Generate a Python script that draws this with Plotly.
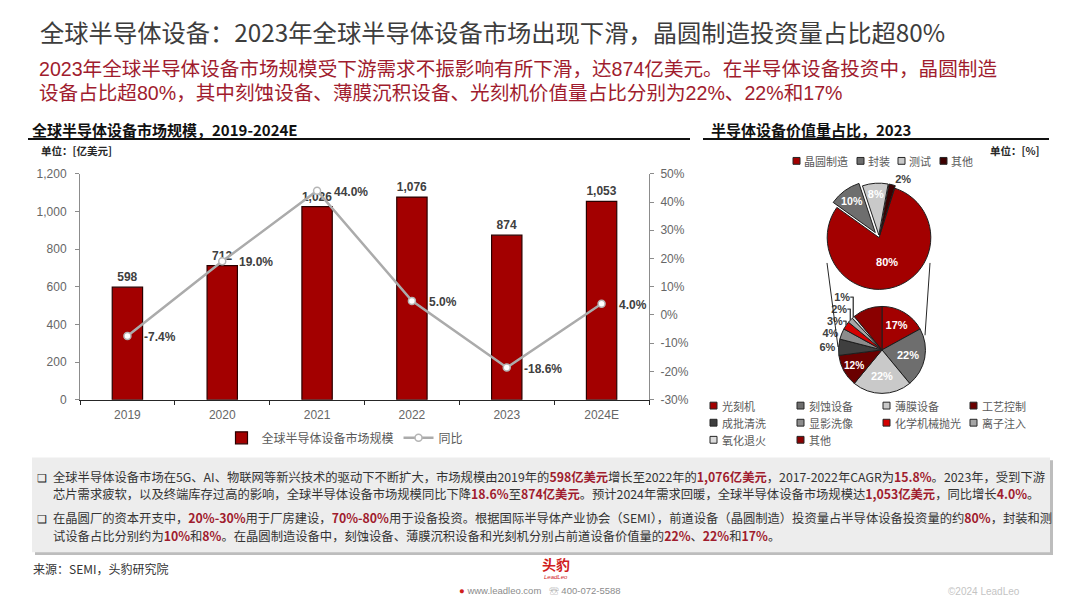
import plotly.graph_objects as go

W, H = 1080, 608

# ---- data ----
years = ["2019", "2020", "2021", "2022", "2023", "2024E"]
market_size = [598, 712, 1026, 1076, 874, 1053]   # 亿美元
yoy_growth = [-7.4, 19.0, 44.0, 5.0, -18.6, 4.0]   # %

seg_labels = ["晶圆制造", "封装", "测试", "其他"]
seg_values = [80, 10, 8, 2]
seg_colors = ["#a30000", "#6e6e6e", "#c9c9c9", "#3d0000"]
seg_pull = [0, 0.12, 0.05, 0.05]
seg_textpos = ["inside", "inside", "inside", "outside"]

fab_labels = ["光刻机", "刻蚀设备", "薄膜设备", "工艺控制", "成批清洗",
              "显影洗像", "化学机械抛光", "离子注入", "氧化退火", "其他"]
fab_values = [17, 22, 22, 12, 6, 4, 3, 2, 1, 11]
fab_colors = ["#a30000", "#6e6e6e", "#c9c9c9", "#6a0000", "#3f3f3f",
              "#8c8c8c", "#d40000", "#a6a6a6", "#dcdcdc", "#8a0000"]
fab_textpos = ["inside"] * 4 + ["outside"] * 5 + ["none"]

yticks = [-30, -20, -10, 0, 10, 20, 30, 40, 50]

RED = "#a01c2e"
CJK = "Noto Sans CJK SC"
LAT = "Liberation Sans, Noto Sans CJK SC"


def fx(x):
    return x / W


def fy(y):
    return 1 - y / H


fig = go.Figure()

fig.add_trace(go.Bar(
    x=years, y=market_size, name="全球半导体设备市场规模",
    marker=dict(color="#a30000", line=dict(color="#2a0000", width=1.2)),
    width=0.32, texttemplate="%{y:,}", textposition="outside",
    textfont=dict(family=LAT, size=12, color="#404040", weight="bold"),
    cliponaxis=False,
))
fig.add_trace(go.Scatter(
    x=years, y=yoy_growth, name="同比", yaxis="y2", mode="lines+markers",
    line=dict(color="#ababab", width=2.5),
    marker=dict(symbol="circle", size=7, color="white", line=dict(color="#b5b5b5", width=1.5)),
    cliponaxis=False,
))

# top pie: equipment by stage
fig.add_trace(go.Pie(
    labels=seg_labels, values=seg_values, sort=False, direction="clockwise",
    rotation=17.6, pull=seg_pull, showlegend=False,
    marker=dict(colors=seg_colors, line=dict(color="#1e1e1e", width=1)),
    text=[f"{v}%" for v in seg_values], textinfo="text", textposition=seg_textpos,
    insidetextorientation="horizontal",
    insidetextfont=dict(family=LAT, size=11, color="white", weight="bold"),
    outsidetextfont=dict(family=LAT, size=11, color="#404040", weight="bold"),
    domain=dict(x=[fx(819.6), fx(938.4)], y=[fy(295.4), fy(176.6)]),
    hoverinfo="label+percent",
))

# bottom pie: wafer fab equipment split
fig.add_trace(go.Pie(
    labels=fab_labels, values=fab_values, sort=False, direction="clockwise",
    rotation=0, showlegend=False,
    marker=dict(colors=fab_colors, line=dict(color="#1e1e1e", width=1)),
    text=[f"{v}%" for v in fab_values], textinfo="text", textposition=fab_textpos,
    insidetextorientation="horizontal",
    insidetextfont=dict(family=LAT, size=11, color="white", weight="bold"),
    outsidetextfont=dict(family=LAT, size=11, color="#404040", weight="bold"),
    domain=dict(x=[fx(837.5), fx(926.5)], y=[fy(395.5), fy(306.5)]),
    hoverinfo="label+percent",
))

ann = []

# growth-rate labels, placed on the data axes just right of each point
for i, g in enumerate(yoy_growth):
    ann.append(dict(x=i, y=g, xref="x", yref="y2", text=f"{g:.1f}%", showarrow=False,
                    xanchor="left", yanchor="middle", xshift=15, yshift=-1,
                    font=dict(family=LAT, size=12, color="#404040", weight="bold")))


def txt(x, y, s, size=11, color="#404040", anchor="left", family=CJK, bold=False, pad=1):
    ann.append(dict(x=fx(x), y=fy(y), xref="paper", yref="paper", text=s,
                    showarrow=False, xanchor=anchor, yanchor="middle", borderpad=pad,
                    align="left", font=dict(family=family, size=size, color=color,
                                            weight="bold" if bold else "normal")))


# header
txt(38, 25, "全球半导体设备：2023年全球半导体设备市场出现下滑，晶圆制造投资量占比超80%",
    size=24.3, color="#3d3d3d")
txt(38, 63, "2023年全球半导体设备市场规模受下游需求不振影响有所下滑，达874亿美元。在半导体设备投资中，晶圆制造",
    size=19.6, color=RED, pad=0, family=LAT)
txt(38, 88.5, "设备占比超80%，其中刻蚀设备、薄膜沉积设备、光刻机价值量占比分别为22%、22%和17%",
    size=19.6, color=RED, pad=0, family=LAT)

# section titles
txt(30, 125, "全球半导体设备市场规模，2019-2024E", size=15, color="#111111", bold=True)
txt(709, 125, "半导体设备价值量占比，2023", size=15, color="#111111", bold=True)
txt(39, 147, "单位：[亿美元]", size=10.5, color="#262626", bold=True)
txt(1042, 147, "单位：[%]", size=10.5, color="#262626", bold=True, anchor="right")

shapes = [
    dict(type="line", xref="paper", yref="paper", x0=fx(28), x1=fx(690), y0=fy(135), y1=fy(135),
         line=dict(color="#111111", width=2)),
    dict(type="line", xref="paper", yref="paper", x0=fx(703), x1=fx(1049), y0=fy(135), y1=fy(135),
         line=dict(color="#111111", width=2)),
    # zoom connector lines between the two pies
    dict(type="line", xref="paper", yref="paper", x0=fx(827), x1=fx(838), y0=fy(262), y1=fy(348),
         line=dict(color="#262626", width=1)),
    dict(type="line", xref="paper", yref="paper", x0=fx(930), x1=fx(925), y0=fy(262), y1=fy(336),
         line=dict(color="#262626", width=1)),
    # text box with shadow
    dict(type="rect", xref="paper", yref="paper", x0=fx(35), x1=fx(1053), y0=fy(561), y1=fy(464),
         fillcolor="#bdbdbd", line=dict(width=0), layer="below"),
    dict(type="rect", xref="paper", yref="paper", x0=fx(32), x1=fx(1050), y0=fy(558), y1=fy(461),
         fillcolor="#ededed", line=dict(width=0), layer="below"),
]

# pie legends (small squares + labels)
top_leg_x = [793, 857, 898, 940]
for lx, name, col in zip(top_leg_x, seg_labels, seg_colors):
    shapes.append(dict(type="rect", xref="paper", yref="paper", x0=fx(lx), x1=fx(lx + 7),
                       y0=fy(161), y1=fy(154), fillcolor=col, line=dict(color="#262626", width=1)))
    txt(lx + 9, 157.5, name, size=11, color="#595959")

col_x = [710, 797, 883, 970]
row_y = [408, 425.5, 443]
for i, (name, col) in enumerate(zip(fab_labels, fab_colors)):
    lx = col_x[i % 4]
    ly = row_y[i // 4]
    shapes.append(dict(type="rect", xref="paper", yref="paper", x0=fx(lx), x1=fx(lx + 7),
                       y0=fy(ly + 3.5), y1=fy(ly - 3.5), fillcolor=col,
                       line=dict(color="#262626", width=1)))
    txt(lx + 10, ly, name, size=11, color="#595959")


# bullet text
def r(s):
    return f"<b><span style='color:{RED}'>{s}</span></b>"


body = [
    (481, "全球半导体设备市场在5G、AI、物联网等新兴技术的驱动下不断扩大，市场规模由2019年的" + r("598亿美元")
     + "增长至2022年的" + r("1,076亿美元") + "，2017-2022年CAGR为" + r("15.8%") + "。2023年，受到下游"),
    (498.5, "芯片需求疲软，以及终端库存过高的影响，全球半导体设备市场规模同比下降" + r("18.6%") + "至"
     + r("874亿美元") + "。预计2024年需求回暖，全球半导体设备市场规模达" + r("1,053亿美元")
     + "，同比增长" + r("4.0%") + "。"),
    (523.5, "在晶圆厂的资本开支中，" + r("20%-30%") + "用于厂房建设，" + r("70%-80%")
     + "用于设备投资。根据国际半导体产业协会（SEMI），前道设备（晶圆制造）投资量占半导体设备投资量的约"
     + r("80%") + "，封装和测"),
    (541.5, "试设备占比分别约为" + r("10%") + "和" + r("8%") + "。在晶圆制造设备中，刻蚀设备、薄膜沉积设备和光刻机分别占前道设备价值量的"
     + r("22%") + "、" + r("22%") + "和" + r("17%") + "。"),
]
for y, s in body:
    txt(51, y, s, size=12.3, color="#333333")
txt(35, 481, "❑", size=11, color="#222222")
txt(35, 523.5, "❑", size=11, color="#222222")

# footer
txt(31, 575, "来源：SEMI，头豹研究院", size=12, color="#333333")
txt(556, 570, "<b>头豹</b>", size=14, color="#d0201c", anchor="center")
txt(556, 583, "<i>LeadLeo</i>", size=6, color="#d0201c", anchor="center", family=LAT)
txt(540, 597, "<span style='color:#d0201c'>●</span> www.leadleo.com   ☏ 400-072-5588",
    size=9.5, color="#8c8c8c", anchor="center", family=LAT)
txt(1022, 598, "©2024 LeadLeo", size=10, color="#c4c4c4", anchor="right", family=LAT)

tick_font = dict(family=LAT, size=12, color="#666666")

fig.update_layout(
    width=W, height=H, margin=dict(l=0, r=0, t=0, b=0),
    paper_bgcolor="white", plot_bgcolor="white",
    font=dict(family=CJK),
    xaxis=dict(domain=[fx(80), fx(649)], type="category", categoryarray=years,
               range=[-0.5, len(years) - 0.5], showline=True, linecolor="#262626",
               linewidth=1.2, ticks="outside", tickson="boundaries", ticklen=4, tickcolor="#262626",
               tickfont=tick_font, ticklabelstandoff=4, showgrid=False),
    yaxis=dict(domain=[fy(402), fy(170.7)], range=[0, 1200], dtick=200, tickformat=",",
               showline=True, linecolor="#8c8c8c", ticks="outside", ticklen=4, tickcolor="#8c8c8c",
               tickfont=tick_font, ticklabelstandoff=6, showgrid=False, zeroline=False),
    yaxis2=dict(overlaying="y", side="right", anchor="x", range=[-30, 50], tickvals=yticks,
                ticktext=[f"{v}%" for v in yticks],
                showline=True, linecolor="#8c8c8c", ticks="outside", ticklen=4, tickcolor="#8c8c8c",
                tickfont=tick_font, ticklabelstandoff=4, showgrid=False, zeroline=False),
    legend=dict(orientation="h", x=fx(345), y=fy(441), xanchor="center", yanchor="middle",
                font=dict(family=CJK, size=12, color="#595959"), bgcolor="rgba(0,0,0,0)",
                itemwidth=30),
    showlegend=True,
    annotations=ann, shapes=shapes,
)

fig.write_html("out.html", config={"displayModeBar": False},
               post_script="document.body.style.margin='0';")
